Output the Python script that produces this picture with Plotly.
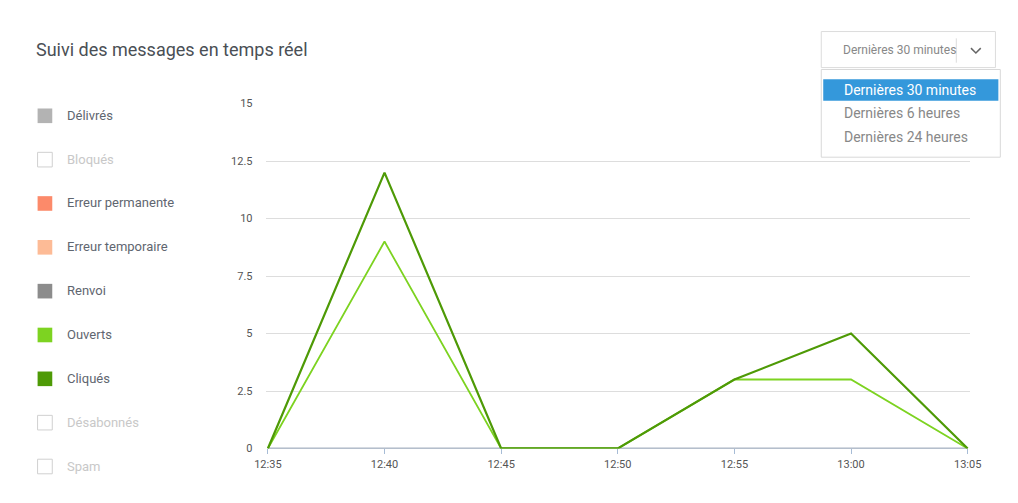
import plotly.graph_objects as go

W, H = 1018, 503

def px(x):
    return x / W

def py(y):
    return 1 - y / H

# Data
times = ['12:35', '12:40', '12:45', '12:50', '12:55', '13:00', '13:05']
delivres = [0, 0, 0, 0, 0, 0, 0]
renvoi = [0, 0, 0, 0, 0, 0, 0]
ouverts = [0, 9, 0, 0, 3, 3, 0]
cliques = [0, 12, 0, 0, 3, 5, 0]
y_ticks = [0, 2.5, 5, 7.5, 10, 12.5, 15]
y_labels = ['0', '2.5', '5', '7.5', '10', '12.5', '15']

legend_names = ['Délivrés', 'Bloqués', 'Erreur permanente', 'Erreur temporaire',
                'Renvoi', 'Ouverts', 'Cliqués', 'Désabonnés', 'Spam']
legend_colors = ['#b3b3b3', None, '#fc8a6a', '#fdbb96', '#8c8c8c',
                 '#7dd321', '#4e9a06', None, None]

menu_items = ['Dernières 30 minutes', 'Dernières 6 heures', 'Dernières 24 heures']

fig = go.Figure()
fig.add_trace(go.Scatter(x=times, y=delivres, mode='lines', line=dict(color='#b3b3b3', width=1.5)))
fig.add_trace(go.Scatter(x=times, y=renvoi, mode='lines', line=dict(color='#8fa3c0', width=1.5)))
fig.add_trace(go.Scatter(x=times, y=ouverts, mode='lines', line=dict(color='#7dd321', width=1.8)))
fig.add_trace(go.Scatter(x=times, y=cliques, mode='lines', line=dict(color='#4e9a06', width=2.2)))

shapes = []
annotations = []

# Title
annotations.append(dict(x=px(15), y=py(36), xref='paper', yref='paper', xanchor='left', yanchor='middle',
                        text='Suivi des messages en temps réel', showarrow=False,
                        font=dict(size=18, color='#4a4f55')))

# Custom legend
for i, (name, col) in enumerate(zip(legend_names, legend_colors)):
    yc = 104 + 45 * i
    if col:
        shapes.append(dict(type='rect', xref='paper', yref='paper', x0=px(19), x1=px(34),
                           y0=py(yc - 7), y1=py(yc + 8), fillcolor=col, line=dict(width=0)))
    else:
        shapes.append(dict(type='rect', xref='paper', yref='paper', x0=px(19), x1=px(34),
                           y0=py(yc - 7), y1=py(yc + 8), fillcolor='white', line=dict(color='#d0d0d0', width=1)))
    annotations.append(dict(x=px(47), y=py(yc), xref='paper', yref='paper', xanchor='left', yanchor='middle',
                            text=name, showarrow=False,
                            font=dict(size=13, color='#5f6670' if col else '#c8c8c8')))

# Dropdown button
shapes.append(dict(type='rect', xref='paper', yref='paper', x0=px(820), x1=px(998), y0=py(18), y1=py(55),
                   fillcolor='white', line=dict(color='#dcdcdc', width=1)))
shapes.append(dict(type='line', xref='paper', yref='paper', x0=px(958), x1=px(958), y0=py(25), y1=py(50),
                   line=dict(color='#dcdcdc', width=1)))
shapes.append(dict(type='path', xref='paper', yref='paper',
                   path=f'M {px(973)} {py(35)} L {px(978)} {py(40)} L {px(983)} {py(35)}',
                   line=dict(color='#666', width=1.5)))
annotations.append(dict(x=px(840), y=py(37), xref='paper', yref='paper', xanchor='left', yanchor='middle',
                        text='Dernières 30 minutes', showarrow=False, font=dict(size=12, color='#888')))

# Open menu
shapes.append(dict(type='rect', xref='paper', yref='paper', x0=px(820), x1=px(1003), y0=py(57), y1=py(147),
                   fillcolor='white', line=dict(color='#d8d8d8', width=1)))
shapes.append(dict(type='rect', xref='paper', yref='paper', x0=px(822), x1=px(1001), y0=py(67), y1=py(89),
                   fillcolor='#3498db', line=dict(width=0)))
for i, item in enumerate(menu_items):
    annotations.append(dict(x=px(841), y=py(78 + 24 * i), xref='paper', yref='paper', xanchor='left',
                            yanchor='middle', text=item, showarrow=False,
                            font=dict(size=14, color='white' if i == 0 else '#888')))

fig.update_layout(
    autosize=True, margin=dict(l=0, r=0, t=0, b=0),
    paper_bgcolor='white', plot_bgcolor='white', showlegend=False,
    font=dict(family='Roboto', color='#555'),
    xaxis=dict(domain=[px(252), px(972)], range=[-0.02, 6.02], showgrid=False, zeroline=False,
               ticks='outside', ticklen=5, tickcolor='#a7bcd6', showline=False,
               tickfont=dict(size=11, color='#555')),
    yaxis=dict(domain=[py(446), py(92)], range=[0, 15], tickvals=y_ticks, ticktext=y_labels,
               gridcolor='#dddddd', zeroline=False, ticks='', tickfont=dict(size=11, color='#555'),
               ticklabelstandoff=12),
    shapes=shapes, annotations=annotations,
)

fig.write_html('out.html', config={'displayModeBar': False}, default_width='100vw', default_height='100vh')
